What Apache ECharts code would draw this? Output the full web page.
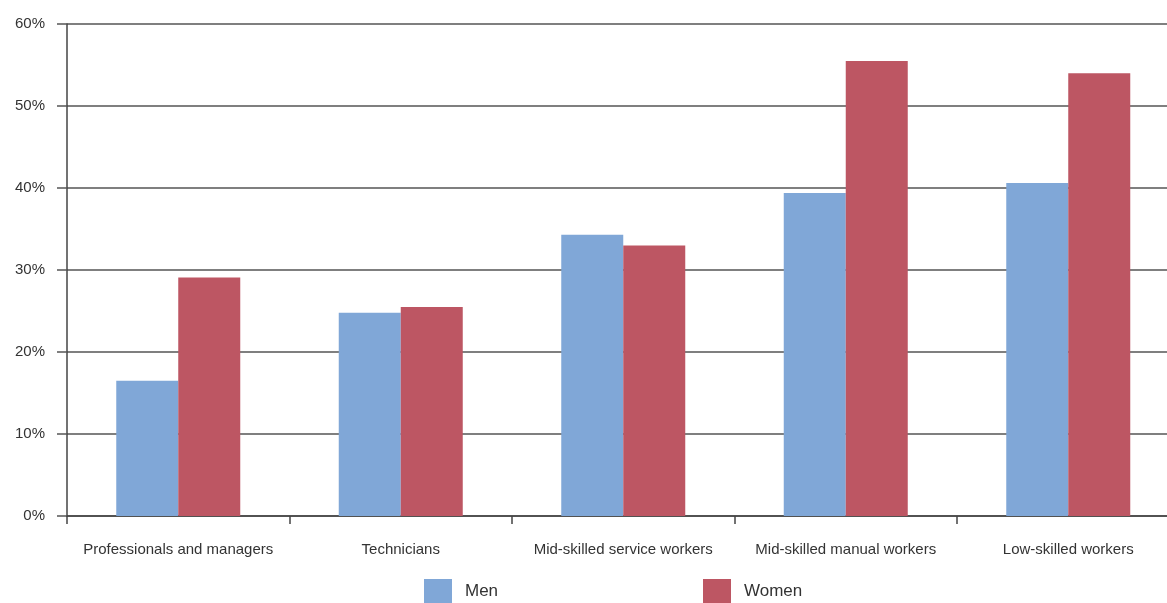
<!DOCTYPE html>
<html><head><meta charset="utf-8">
<script src="https://cdn.jsdelivr.net/npm/echarts@6/dist/echarts.min.js"></script>
<style>html,body{margin:0;padding:0;background:#fff;overflow:hidden;width:1167px;height:603px;}#c{width:1180px;height:603px;}</style>
</head><body><div id="c"></div>
<script>
const categories = ["Professionals and managers","Technicians","Mid-skilled service workers","Mid-skilled manual workers","Low-skilled workers"];
const men = [16.5, 24.8, 34.3, 39.4, 40.6];
const women = [29.1, 25.5, 33.0, 55.5, 54.0];
const yTicks = {min:0, max:60, interval:10};

const chart = echarts.init(document.getElementById('c'));
const font = 'Liberation Sans, Arial, sans-serif';
chart.setOption({
  animation:false,
  grid:{left:67, right:0.5, top:24, bottom:87, containLabel:false, outerBoundsMode:'none'},
  legend:[
    {data:['Men'], left:419, top:574, icon:'rect', itemWidth:28, itemHeight:24, itemGap:0, textStyle:{fontFamily:font,fontSize:17,color:'#333',padding:[3,0,0,8]}, selectedMode:false},
    {data:['Women'], left:698, top:574, icon:'rect', itemWidth:28, itemHeight:24, itemGap:0, textStyle:{fontFamily:font,fontSize:17,color:'#333',padding:[3,0,0,8]}, selectedMode:false}
  ],
  xAxis:{type:'category', data:categories, boundaryGap:true,
    axisLine:{lineStyle:{color:'#444', width:1.5}},
    axisTick:{show:true, length:8, lineStyle:{color:'#444', width:1.5}},
    axisLabel:{fontFamily:font, fontSize:15, color:'#333', margin:26, interval:0}
  },
  yAxis:{type:'value', min:yTicks.min, max:yTicks.max, interval:yTicks.interval,
    axisLine:{show:true, lineStyle:{color:'#444', width:1.5}},
    axisTick:{show:true, length:10, lineStyle:{color:'#555', width:1.5}},
    splitLine:{show:true, lineStyle:{color:'#555', width:1.5}},
    axisLabel:{fontFamily:font, fontSize:15, color:'#333', margin:22, formatter:'{value}%'}
  },
  series:[
    {name:'Men', type:'bar', data:men, barWidth:62, barGap:'0%', itemStyle:{color:'#80a7d7'}},
    {name:'Women', type:'bar', data:women, barWidth:62, barGap:'0%', itemStyle:{color:'#bd5663'}}
  ]
});
</script></body></html>
